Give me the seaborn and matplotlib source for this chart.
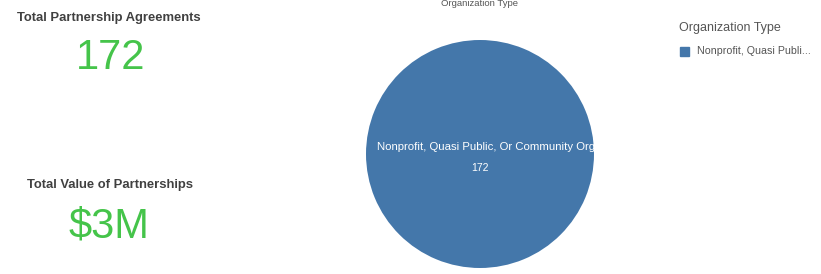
import matplotlib.pyplot as plt
import seaborn as sns
import pandas as pd

# KPI values
kpi_titles = ["Total Partnership Agreements", "Total Value of Partnerships"]
kpi_values = ["172", "$3M"]

# pie data
org_types = ["Nonprofit, Quasi Public, Or Community Organization"]
org_counts = [172]
legend_labels = ["Nonprofit, Quasi Publi..."]

df = pd.DataFrame({"Organization Type": org_types, "Count": org_counts})

sns.set_theme(style="white")
plt.rcParams['font.family'] = ['Liberation Sans', 'DejaVu Sans']

W, H = 821, 274
fig = plt.figure(figsize=(W / 100, H / 100), dpi=100)
fig.patch.set_facecolor("white")

pie_color = "#4477aa"
green = "#45c44a"

# KPI cards on the left
kpi_pos = [(109, 18, 111, 58), (110, 185, 109, 226)]
for (tx, ty, vx, vy), t, v in zip(kpi_pos, kpi_titles, kpi_values):
    fig.text(tx / W, 1 - ty / H, t, ha="center", va="center",
             fontsize=9.4, fontweight="bold", color="#404040")
    fig.text(vx / W, 1 - vy / H, v, ha="center", va="center",
             fontsize=30, color=green)

# pie
ax = fig.add_axes([366 / W, 6 / H, 228 / W, 228 / H])
wedges, _ = ax.pie(df["Count"], colors=[pie_color], startangle=90,
                   wedgeprops=dict(linewidth=0))
ax.set_xlim(-1, 1)
ax.set_ylim(-1, 1)
ax.set_aspect("equal")
ax.axis("off")

t1 = ax.text(-0.90, 0.06, df["Organization Type"][0], ha="left", va="center",
             fontsize=8.2, color="white")
t2 = ax.text(0, -0.12, str(df["Count"][0]), ha="center", va="center",
             fontsize=7.5, color="white")
t1.set_clip_path(wedges[0])

fig.text(479 / W, 1 - 4 / H, "Organization Type", ha="center", va="center",
         fontsize=6.8, color="#555555")

# legend
fig.text(679 / W, 1 - 28 / H, "Organization Type", ha="left", va="center",
         fontsize=9, color="#555555")
lax = fig.add_axes([0, 0, 1, 1], facecolor="none")
lax.set_xlim(0, W)
lax.set_ylim(H, 0)
lax.axis("off")
lax.add_patch(plt.Rectangle((680, 47), 9, 9, color=pie_color))
lax.text(697, 51.5, legend_labels[0], ha="left", va="center",
         fontsize=7.7, color="#555555")

fig.savefig("out.png", dpi=100, facecolor="white")
